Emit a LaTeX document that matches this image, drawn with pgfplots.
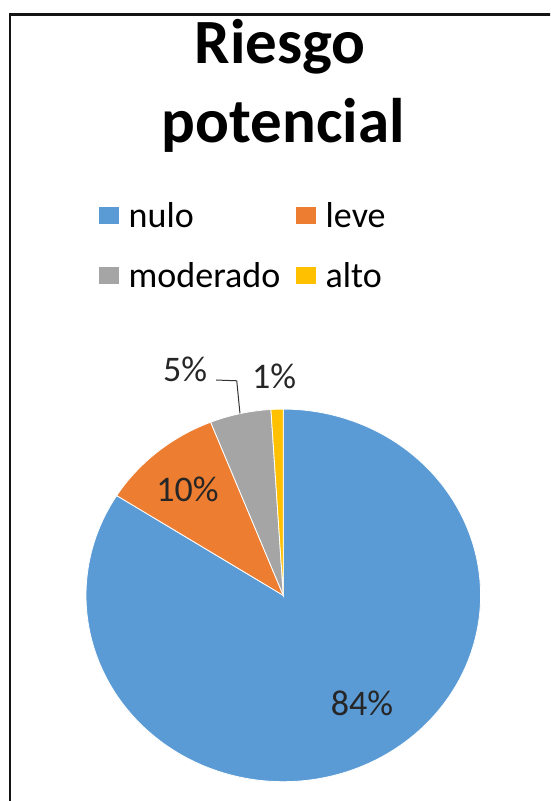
\documentclass[border=0pt]{standalone}
\usepackage{pgfplots}
\usepackage{pgfplotstable}
\pgfplotsset{compat=1.18}
\usepackage{fontspec}
\setmainfont{Carlito}

\definecolor{cnulo}{HTML}{5B9BD5}
\definecolor{cleve}{HTML}{ED7D31}
\definecolor{cmod}{HTML}{A5A5A5}
\definecolor{calto}{HTML}{FFC000}

\pgfplotstableread{
label value
nulo 84
leve 10
moderado 5
alto 1
}\pietable

\begin{document}
\begin{tikzpicture}
\path[use as bounding box, clip] (0pt,0pt) rectangle (550pt,801pt);
\fill[white] (0pt,0pt) rectangle (550pt,801pt);
% frame
\draw[line width=2.6pt, black!92] (9.8pt,786.5pt) rectangle (620pt,-60pt);
% title
\node[anchor=base, font=\fontsize{63}{76}\selectfont\bfseries, inner sep=0pt] at (280pt,737pt) {Riesgo};
\node[anchor=base, font=\fontsize{63}{76}\selectfont\bfseries, inner sep=0pt] at (283.3pt,658.3pt) {potencial};

\pgfplotstablegetelem{0}{value}\of\pietable \pgfmathsetmacro\vA{\pgfplotsretval}
\pgfplotstablegetelem{1}{value}\of\pietable \pgfmathsetmacro\vB{\pgfplotsretval}
\pgfplotstablegetelem{2}{value}\of\pietable \pgfmathsetmacro\vC{\pgfplotsretval}
\pgfplotstablegetelem{3}{value}\of\pietable \pgfmathsetmacro\vD{\pgfplotsretval}
\pgfmathsetmacro\aA{90}
\pgfmathsetmacro\aB{\aA-3.6*\vA}
\pgfmathsetmacro\aC{\aB-3.6*\vB}
\pgfmathsetmacro\aD{\aC-3.6*\vC}
\pgfmathsetmacro\aE{\aD-3.6*\vD}

\begin{axis}[
  at={(86pt,19.3pt)}, anchor=south west,
  scale only axis, width=394.6pt, height=372.6pt,
  xmin=-1, xmax=1, ymin=-1, ymax=1,
  hide axis, clip=false,
  legend columns=2,
  legend cell align=left,
  legend image code/.code={\fill[#1,draw=none] (0pt,-7.9pt) rectangle (20pt,9.3pt);},
  legend style={at={(0.0317,1.5600)}, anchor=north west, draw=none, fill=none, inner sep=0pt,
    font=\fontsize{36}{43}\selectfont, row sep=29.6pt,
    /tikz/every odd column/.append style={column sep=8pt},
    /tikz/every even column/.append style={column sep=13.5pt}},
]
\addplot[fill=cnulo, draw=white, line width=0.8pt, domain=\aB:\aA, samples=200, variable=\t] ({cos(\t)},{sin(\t)}) -- (axis cs:0,0) -- cycle;
\addlegendentry{nulo}
\addplot[fill=cleve, draw=white, line width=0.8pt, domain=\aC:\aB, samples=40, variable=\t] ({cos(\t)},{sin(\t)}) -- (axis cs:0,0) -- cycle;
\addlegendentry{leve}
\addplot[fill=cmod, draw=white, line width=0.8pt, domain=\aD:\aC, samples=30, variable=\t] ({cos(\t)},{sin(\t)}) -- (axis cs:0,0) -- cycle;
\addlegendentry{moderado}
\addplot[fill=calto, draw=white, line width=0.8pt, domain=\aE:\aD, samples=10, variable=\t] ({cos(\t)},{sin(\t)}) -- (axis cs:0,0) -- cycle;
\addlegendentry{alto}
% data labels
\node[anchor=base, font=\fontsize{36}{43}\selectfont, text=black!85] at (axis cs:0.399,-0.643) {84\%};
\node[anchor=base, font=\fontsize{36}{43}\selectfont, text=black!85] at (axis cs:-0.486,0.502) {10\%};
\node[anchor=base, font=\fontsize{36}{43}\selectfont, text=black!85] at (axis cs:-0.498,1.150) {5\%};
\node[anchor=base, font=\fontsize{36}{43}\selectfont, text=black!85] at (axis cs:-0.047,1.111) {1\%};
\draw[black!80, line width=1pt] (axis cs:-0.340,1.156) -- (axis cs:-0.236,1.152) -- (axis cs:-0.2196,0.977);
\end{axis}
\end{tikzpicture}
\end{document}
